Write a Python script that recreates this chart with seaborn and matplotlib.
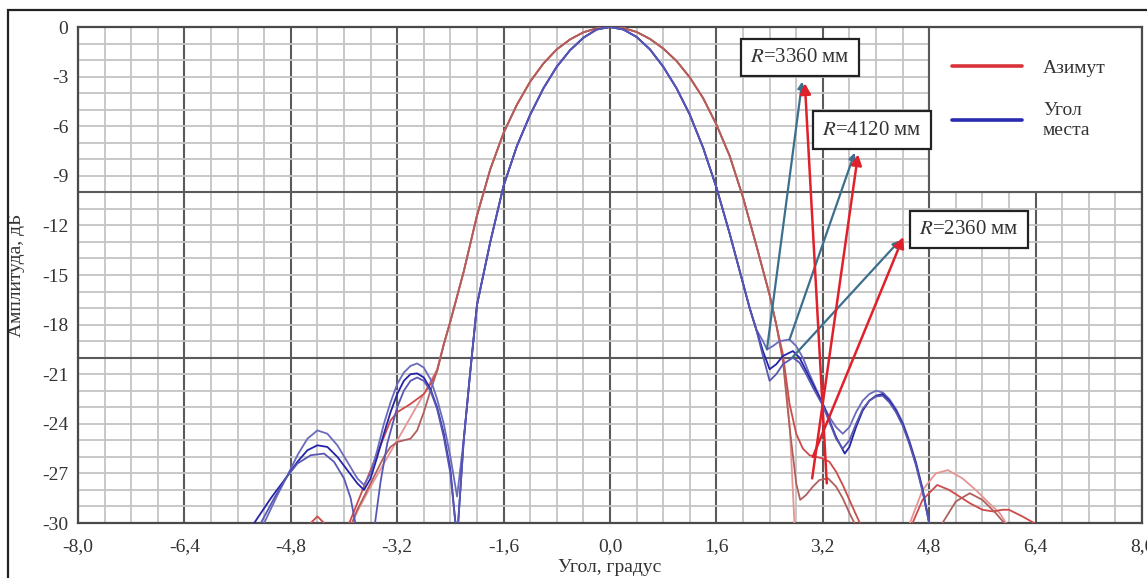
import numpy as np
import pandas as pd
import matplotlib
matplotlib.use("Agg")
import matplotlib.pyplot as plt
import seaborn as sns
from matplotlib.lines import Line2D
from matplotlib.patches import Rectangle
from matplotlib.ticker import MultipleLocator

# ---------------- data ----------------
# Azimuth (red) main lobe, shared by the three red curves
az_main_x = [-2.5, -2.4, -2.2, -2.0, -1.8, -1.6, -1.4, -1.2, -1.0, -0.8, -0.6, -0.4, -0.2, 0.0,
             0.2, 0.4, 0.6, 0.8, 1.0, 1.2, 1.4, 1.6, 1.8, 2.0, 2.2, 2.4, 2.5]
az_main_y = [-19.2, -17.8, -14.8, -11.4, -8.6, -6.4, -4.7, -3.3, -2.2, -1.35, -0.75, -0.32, -0.08, 0.0,
             -0.06, -0.3, -0.72, -1.3, -2.05, -3.05, -4.3, -5.9, -7.8, -10.3, -13.2, -16.2, -18.0]

az1_left_x = [-3.9, -3.8, -3.6, -3.4, -3.2, -3.0, -2.8, -2.6]
az1_left_y = [-30.2, -29.3, -27.8, -26.4, -25.0, -23.6, -22.2, -20.7]
az1_right_x = [2.6, 2.7, 2.78, 2.85, 4.4, 4.51, 4.7, 4.9, 5.08, 5.3, 5.5, 5.7, 5.86, 5.97, 6.1]
az1_right_y = [-20.0, -24.0, -30.5, -34.0, -33.0, -30.0, -28.0, -27.0, -26.8, -27.3, -28.0, -28.8, -29.4, -30.1, -32.0]

az2_left_x = [-4.6, -4.5, -4.4, -4.3, -4.2, -4.05, -3.95, -3.8, -3.6, -3.4, -3.3, -3.2, -3.0, -2.8, -2.7, -2.6]
az2_left_y = [-31.0, -30.0, -29.6, -30.0, -31.0, -32.0, -30.3, -28.8, -26.8, -24.8, -23.8, -23.3, -22.8, -22.2, -21.6, -20.8]
az2_right_x = [2.6, 2.7, 2.8, 2.9, 3.0, 3.1, 3.2, 3.3, 3.4, 3.5, 3.6, 3.7, 3.78, 3.9,
               4.4, 4.55, 4.7, 4.92, 5.1, 5.41, 5.6, 5.76, 5.9, 6.0, 6.2, 6.42, 6.6]
az2_right_y = [-19.8, -22.8, -24.6, -25.5, -25.9, -26.0, -26.1, -26.3, -26.9, -27.7, -28.6, -29.5, -30.2, -33.0,
               -32.0, -30.0, -28.6, -27.7, -28.0, -28.8, -29.2, -29.3, -29.2, -29.2, -29.6, -30.1, -32.0]

az3_left_x = [-3.9, -3.8, -3.6, -3.4, -3.3, -3.2, -3.0, -2.9, -2.8, -2.7, -2.6]
az3_left_y = [-30.2, -29.2, -27.6, -26.0, -25.4, -25.1, -24.9, -24.4, -23.3, -22.0, -20.8]
az3_right_x = [2.6, 2.7, 2.8, 2.86, 2.95, 3.05, 3.15, 3.28, 3.4, 3.5, 3.6, 3.7, 3.85,
               4.8, 5.0, 5.2, 5.41, 5.6, 5.8, 5.95, 6.1]
az3_right_y = [-20.2, -24.2, -27.6, -28.6, -28.3, -27.8, -27.4, -27.3, -27.8, -28.5, -29.4, -30.2, -33.0,
               -33.0, -30.0, -28.7, -28.2, -28.6, -29.4, -30.1, -32.0]

# Elevation (blue) main lobe, shared by the three blue curves
el_main_x = [-2.2, -2.1, -2.0, -1.9, -1.8, -1.6, -1.4, -1.2, -1.0, -0.8, -0.6, -0.4, -0.2, 0.0,
             0.2, 0.4, 0.6, 0.8, 1.0, 1.2, 1.4, 1.6, 1.8, 2.0, 2.1, 2.2]
el_main_y = [-25.0, -20.8, -16.8, -14.9, -13.0, -9.6, -7.2, -5.3, -3.7, -2.4, -1.4, -0.65, -0.15, 0.0,
             -0.15, -0.6, -1.35, -2.4, -3.7, -5.3, -7.3, -9.7, -12.5, -15.5, -17.0, -18.3]

el1_left_x = [-5.2, -5.0, -4.86, -4.7, -4.55, -4.4, -4.25, -4.1, -3.95, -3.8, -3.7, -3.6, -3.5, -3.4,
              -3.3, -3.2, -3.1, -3.0, -2.9, -2.8, -2.7, -2.6, -2.5, -2.4, -2.3]
el1_left_y = [-30.0, -28.3, -27.2, -25.9, -24.9, -24.4, -24.6, -25.3, -26.3, -27.3, -27.7, -27.0, -25.6, -24.0,
              -22.7, -21.6, -20.9, -20.5, -20.35, -20.6, -21.3, -22.5, -24.0, -26.0, -28.4]
el1_right_x = [2.3, 2.36, 2.45, 2.55, 2.7, 2.8, 2.9, 3.0, 3.1, 3.2, 3.3, 3.4, 3.5, 3.6, 3.7, 3.8,
               3.9, 4.0, 4.1, 4.2, 4.3, 4.4, 4.5, 4.6, 4.7, 4.8, 4.85]
el1_right_y = [-19.0, -19.5, -19.3, -19.0, -18.9, -19.3, -20.0, -21.0, -21.9, -22.8, -23.6, -24.2, -24.6, -24.2, -23.3, -22.6,
               -22.2, -22.0, -22.1, -22.5, -23.1, -23.9, -25.0, -26.3, -27.9, -30.0, -31.5]

el2_left_x = [-5.35, -5.1, -4.86, -4.7, -4.55, -4.4, -4.25, -4.1, -3.95, -3.8, -3.7, -3.6, -3.5, -3.4,
              -3.3, -3.2, -3.1, -3.0, -2.9, -2.8, -2.7, -2.6, -2.5, -2.4, -2.3]
el2_left_y = [-30.0, -28.5, -27.2, -26.3, -25.6, -25.3, -25.4, -26.0, -26.8, -27.6, -28.0, -27.3, -26.0, -24.6,
              -23.3, -22.2, -21.4, -21.0, -20.95, -21.2, -21.9, -23.0, -24.6, -26.8, -31.0]
el2_right_x = [2.3, 2.4, 2.5, 2.6, 2.75, 2.85, 2.95, 3.05, 3.2, 3.3, 3.4, 3.53, 3.6, 3.7, 3.8,
               3.9, 4.0, 4.1, 4.2, 4.3, 4.4, 4.5, 4.6, 4.7, 4.8, 4.85]
el2_right_y = [-19.6, -20.7, -20.4, -19.9, -19.6, -20.0, -20.8, -21.6, -22.8, -23.8, -24.8, -25.8, -25.4, -24.2, -23.2,
               -22.6, -22.3, -22.2, -22.6, -23.2, -24.0, -25.1, -26.4, -28.0, -30.0, -31.5]

el3_left_x = [-5.25, -5.05, -4.86, -4.7, -4.5, -4.3, -4.15, -4.0, -3.9, -3.83, -3.7, -3.55, -3.45, -3.35,
              -3.2, -3.1, -3.0, -2.9, -2.8, -2.7, -2.6, -2.5, -2.4, -2.3]
el3_left_y = [-30.0, -28.5, -27.2, -26.4, -25.9, -25.8, -26.3, -27.3, -28.5, -30.0, -33.0, -30.5, -27.5, -25.2,
              -23.0, -22.0, -21.4, -21.2, -21.4, -22.0, -23.1, -24.8, -27.0, -31.0]
el3_right_x = [2.3, 2.4, 2.5, 2.6, 2.75, 2.85, 2.95, 3.05, 3.2, 3.3, 3.4, 3.5, 3.6, 3.7, 3.8,
               3.9, 4.0, 4.1, 4.2, 4.3, 4.4, 4.5, 4.6, 4.7, 4.8, 4.85]
el3_right_y = [-19.9, -21.4, -21.0, -20.4, -20.0, -20.3, -21.0, -21.8, -22.9, -23.9, -24.9, -25.5, -25.0, -24.0, -23.1,
               -22.6, -22.35, -22.3, -22.7, -23.3, -24.1, -25.2, -26.5, -28.1, -30.0, -31.5]

series_labels = ["Азимут", "Угол\nместа"]
x_ticks = [-8.0, -6.4, -4.8, -3.2, -1.6, 0.0, 1.6, 3.2, 4.8, 6.4, 8.0]
y_ticks = [0, -3, -6, -9, -12, -15, -18, -21, -24, -27, -30]

# annotations: label, pointed curve spots (blue-ish arrow, red arrow), label box centre
ann_labels = ["3360", "4120", "2360"]
ann_blue_from = [(2.36, -19.5), (2.70, -18.9), (2.74, -20.0)]
ann_blue_to = [(2.89, -3.3), (3.68, -7.6), (4.36, -12.9)]
ann_red_from = [(3.26, -27.6), (3.04, -27.3), (3.05, -26.0)]
ann_red_to = [(2.93, -3.4), (3.73, -7.7), (4.41, -12.7)]
ann_box = [(2.86, -1.85), (3.94, -6.25), (5.40, -12.25)]

# ---------------- build table ----------------
curves = {
    "az1": (az1_left_x + az_main_x + az1_right_x, az1_left_y + az_main_y + az1_right_y),
    "az2": (az2_left_x + az_main_x + az2_right_x, az2_left_y + az_main_y + az2_right_y),
    "az3": (az3_left_x + az_main_x + az3_right_x, az3_left_y + az_main_y + az3_right_y),
    "el1": (el1_left_x + el_main_x + el1_right_x, el1_left_y + el_main_y + el1_right_y),
    "el2": (el2_left_x + el_main_x + el2_right_x, el2_left_y + el_main_y + el2_right_y),
    "el3": (el3_left_x + el_main_x + el3_right_x, el3_left_y + el_main_y + el3_right_y),
}
frames = []
for name, (xs, ys) in curves.items():
    frames.append(pd.DataFrame({"angle": xs, "level": ys, "curve": name}))
df = pd.concat(frames, ignore_index=True)

palette = {"az1": "#e69494", "az2": "#cf4a4a", "az3": "#b0605c",
           "el1": "#6a6abf", "el2": "#2424a8", "el3": "#5858b4"}

# ---------------- figure ----------------
sns.set_style("white")
plt.rcParams["font.family"] = ["Liberation Serif", "DejaVu Serif"]
plt.rcParams["mathtext.fontset"] = "stix"
plt.rcParams["axes.unicode_minus"] = False

fig = plt.figure(figsize=(11.47, 5.78), dpi=100)
ax = fig.add_axes([78 / 1147, 1 - 523 / 578, (1142 - 78) / 1147, (523 - 27) / 578])

# outer frame of the picture
fig.patches.append(Rectangle((8 / 1147, -0.2), 1.2, 1 - 10 / 578 + 0.2, transform=fig.transFigure,
                             fill=False, ec="#222222", lw=1.6, zorder=0))

sns.lineplot(data=df, x="angle", y="level", hue="curve", palette=palette, estimator=None,
             legend=False, linewidth=1.3, ax=ax, zorder=3)

ax.set_xlim(-8, 8)
ax.set_ylim(-30, 0)
ax.set_xticks(x_ticks)
ax.set_xticklabels([("%.1f" % abs(v) if v == 0 else "%.1f" % v).replace(".", ",") for v in x_ticks])
ax.set_yticks(y_ticks)
ax.set_yticklabels([str(v) for v in y_ticks])
ax.xaxis.set_minor_locator(MultipleLocator(0.4))
ax.yaxis.set_minor_locator(MultipleLocator(1))
ax.tick_params(which="both", length=0, labelsize=14, colors="#333333")
ax.tick_params(axis="x", pad=11)
ax.tick_params(axis="y", pad=7)

ax.set_axisbelow(True)
ax.grid(which="minor", color="#c4c4c4", lw=1.3)
ax.grid(which="major", axis="y", color="#c4c4c4", lw=1.3)
ax.grid(which="major", axis="x", color="#5a5a5a", lw=1.5)
for yv in (-10, -20):
    ax.axhline(yv, color="#5a5a5a", lw=1.5, zorder=1)
for s in ax.spines.values():
    s.set_color("#4a4a4a")
    s.set_linewidth(1.6)

ax.set_xlabel("Угол, градус", fontsize=14, color="#333333")
ax.xaxis.set_label_coords(0.5, -0.072)
ax.set_ylabel("Амплитуда, дБ", fontsize=14, color="#333333")
ax.yaxis.set_label_coords(-0.05, 0.5)

# legend panel
ax.add_patch(Rectangle((0.8, 2 / 3), 0.2, 1 / 3, transform=ax.transAxes, fc="white",
                       ec="#5a5a5a", lw=1.5, zorder=2))
handles = [Line2D([], [], color="#d9333a", lw=2.6), Line2D([], [], color="#2a2ab0", lw=2.6)]
leg = ax.legend(handles, series_labels, loc="upper left", bbox_to_anchor=(0.812, 0.955),
                frameon=False, fontsize=14, handlelength=3.6, handletextpad=1.1,
                labelspacing=1.3, borderpad=0)
leg.set_zorder(6)
for t in leg.get_texts():
    t.set_color("#333333")
    t.set_linespacing(1.2)

# arrows
for p0, p1 in zip(ann_blue_from, ann_blue_to):
    ax.annotate("", xy=p1, xytext=p0,
                arrowprops=dict(arrowstyle="-|>", color="#3c6f8e", lw=1.6, mutation_scale=10,
                                shrinkA=0, shrinkB=0), zorder=4)
for p0, p1 in zip(ann_red_from, ann_red_to):
    ax.annotate("", xy=p1, xytext=p0,
                arrowprops=dict(arrowstyle="-|>", color="#e0212b", lw=1.8, mutation_scale=16,
                                shrinkA=0, shrinkB=0), zorder=4)
for lab, pos in zip(ann_labels, ann_box):
    ax.text(pos[0], pos[1], "$R$=" + lab + " мм", fontsize=15, ha="center", va="center",
            color="#333333", zorder=7,
            bbox=dict(boxstyle="square,pad=0.45", fc="white", ec="#222222", lw=1.6))

fig.savefig("out.png", dpi=100)
